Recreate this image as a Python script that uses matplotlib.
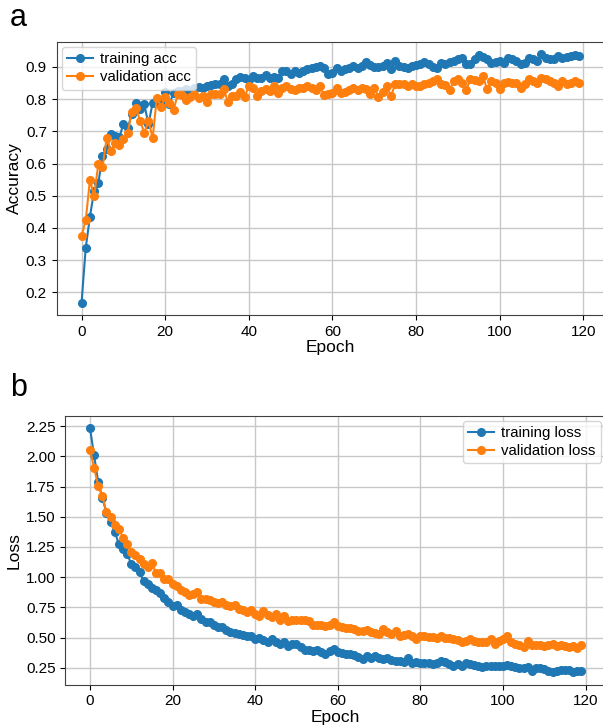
import matplotlib
matplotlib.use("Agg")
import matplotlib.pyplot as plt
import numpy as np

plt.rcParams['font.family'] = ['Liberation Sans', 'DejaVu Sans']

epochs = list(range(120))

train_acc = [
    0.168, 0.339, 0.435, 0.515, 0.538, 0.624, 0.644, 0.691, 0.686, 0.681,
    0.722, 0.709, 0.753, 0.789, 0.769, 0.784, 0.722, 0.789, 0.790, 0.795,
    0.822, 0.784, 0.820, 0.825, 0.825, 0.831, 0.823, 0.836, 0.838, 0.836,
    0.841, 0.844, 0.848, 0.846, 0.862, 0.841, 0.848, 0.862, 0.869, 0.867,
    0.859, 0.872, 0.865, 0.867, 0.875, 0.867, 0.869, 0.865, 0.888, 0.886,
    0.879, 0.888, 0.882, 0.888, 0.893, 0.896, 0.900, 0.903, 0.898, 0.879,
    0.882, 0.898, 0.888, 0.893, 0.896, 0.903, 0.898, 0.903, 0.916, 0.906,
    0.900, 0.900, 0.903, 0.913, 0.893, 0.918, 0.903, 0.900, 0.898, 0.903,
    0.906, 0.910, 0.916, 0.908, 0.900, 0.898, 0.913, 0.908, 0.915, 0.920,
    0.924, 0.928, 0.908, 0.908, 0.924, 0.936, 0.932, 0.924, 0.913, 0.915,
    0.918, 0.913, 0.929, 0.924, 0.918, 0.908, 0.911, 0.929, 0.924, 0.919,
    0.939, 0.929, 0.924, 0.926, 0.934, 0.929, 0.930, 0.934, 0.936, 0.934,
]

val_acc = [
    0.375, 0.425, 0.549, 0.498, 0.598, 0.588, 0.679, 0.639, 0.663, 0.657,
    0.675, 0.694, 0.760, 0.774, 0.732, 0.696, 0.732, 0.679, 0.805, 0.776,
    0.808, 0.789, 0.766, 0.815, 0.813, 0.796, 0.807, 0.815, 0.805, 0.810,
    0.792, 0.815, 0.817, 0.817, 0.831, 0.792, 0.810, 0.810, 0.823, 0.807,
    0.841, 0.834, 0.810, 0.825, 0.831, 0.825, 0.841, 0.820, 0.836, 0.841,
    0.831, 0.828, 0.836, 0.834, 0.841, 0.836, 0.828, 0.841, 0.813, 0.817,
    0.820, 0.836, 0.820, 0.823, 0.828, 0.836, 0.828, 0.836, 0.831, 0.817,
    0.836, 0.807, 0.823, 0.841, 0.810, 0.846, 0.848, 0.848, 0.841, 0.846,
    0.841, 0.841, 0.848, 0.851, 0.856, 0.862, 0.846, 0.844, 0.828, 0.857,
    0.864, 0.851, 0.829, 0.862, 0.860, 0.857, 0.872, 0.830, 0.855, 0.851,
    0.831, 0.851, 0.853, 0.851, 0.851, 0.836, 0.846, 0.862, 0.857, 0.851,
    0.867, 0.862, 0.857, 0.851, 0.841, 0.857, 0.846, 0.851, 0.857, 0.851,
]

train_loss = [
    2.236, 2.008, 1.787, 1.658, 1.530, 1.457, 1.377, 1.272, 1.231, 1.189,
    1.112, 1.080, 1.040, 0.970, 0.940, 0.910, 0.890, 0.870, 0.830, 0.790,
    0.762, 0.768, 0.730, 0.710, 0.694, 0.675, 0.694, 0.652, 0.630, 0.625,
    0.600, 0.583, 0.583, 0.564, 0.548, 0.540, 0.528, 0.520, 0.509, 0.509,
    0.487, 0.500, 0.480, 0.459, 0.487, 0.459, 0.446, 0.459, 0.432, 0.446,
    0.446, 0.418, 0.400, 0.400, 0.390, 0.399, 0.377, 0.364, 0.391, 0.405,
    0.383, 0.370, 0.364, 0.364, 0.355, 0.336, 0.322, 0.350, 0.330, 0.344,
    0.328, 0.322, 0.328, 0.317, 0.308, 0.305, 0.300, 0.328, 0.289, 0.295,
    0.289, 0.289, 0.289, 0.281, 0.289, 0.308, 0.295, 0.281, 0.267, 0.281,
    0.267, 0.289, 0.281, 0.275, 0.267, 0.253, 0.262, 0.267, 0.267, 0.267,
    0.267, 0.273, 0.262, 0.253, 0.245, 0.245, 0.253, 0.226, 0.245, 0.245,
    0.240, 0.226, 0.212, 0.226, 0.234, 0.234, 0.234, 0.218, 0.226, 0.226,
]

val_loss = [
    2.052, 1.906, 1.754, 1.671, 1.539, 1.501, 1.429, 1.402, 1.327, 1.278,
    1.209, 1.181, 1.148, 1.107, 1.087, 1.120, 1.032, 1.038, 0.983, 0.983,
    0.941, 0.928, 0.895, 0.878, 0.850, 0.860, 0.881, 0.823, 0.818, 0.812,
    0.795, 0.784, 0.795, 0.768, 0.757, 0.773, 0.740, 0.729, 0.713, 0.729,
    0.694, 0.680, 0.721, 0.685, 0.666, 0.694, 0.647, 0.675, 0.639, 0.647,
    0.647, 0.647, 0.647, 0.639, 0.603, 0.603, 0.603, 0.597, 0.603, 0.625,
    0.592, 0.584, 0.582, 0.575, 0.570, 0.550, 0.556, 0.560, 0.548, 0.535,
    0.529, 0.570, 0.545, 0.529, 0.556, 0.510, 0.520, 0.529, 0.510, 0.487,
    0.515, 0.510, 0.505, 0.501, 0.493, 0.510, 0.497, 0.493, 0.487, 0.482,
    0.465, 0.474, 0.487, 0.468, 0.465, 0.465, 0.460, 0.487, 0.446, 0.474,
    0.490, 0.510, 0.460, 0.446, 0.438, 0.425, 0.474, 0.438, 0.438, 0.438,
    0.432, 0.438, 0.446, 0.432, 0.438, 0.430, 0.419, 0.427, 0.410, 0.438,
]

acc_ticks = [0.2, 0.3, 0.4, 0.5, 0.6, 0.7, 0.8, 0.9]
loss_ticks = [0.25, 0.5, 0.75, 1.0, 1.25, 1.5, 1.75, 2.0, 2.25]
epoch_ticks = [0, 20, 40, 60, 80, 100, 120]

W, H = 603, 725
fig = plt.figure(figsize=(W / 100, H / 100), dpi=100)

def px_axes(left, top, right, bottom):
    return fig.add_axes([left / W, 1 - bottom / H, (right - left) / W, (bottom - top) / H])

ax1 = px_axes(56.7, 42.0, 604.0, 315.0)
ax2 = px_axes(65.4, 415.7, 606.0, 684.5)

blue = '#1f77b4'
orange = '#ff7f0e'
ms = 5.5
lw = 1.5

leg_kw = dict(fontsize=10.8, handlelength=1.7, handletextpad=0.5,
              labelspacing=0.25, borderpad=0.35, borderaxespad=0.35)

ax1.plot(epochs, train_acc, '-o', color=blue, ms=ms, lw=lw, label='training acc')
ax1.plot(epochs, val_acc, '-o', color=orange, ms=ms, lw=lw, label='validation acc')
ax1.set_ylabel('Accuracy', fontsize=12.5, labelpad=3)
ax1.set_xlabel('Epoch', fontsize=12.5, labelpad=1)
ax1.set_yticks(acc_ticks)
ax1.legend(loc='upper left', **leg_kw)

ax2.plot(epochs, train_loss, '-o', color=blue, ms=ms, lw=lw, label='training loss')
ax2.plot(epochs, val_loss, '-o', color=orange, ms=ms, lw=lw, label='validation loss')
ax2.set_ylabel('Loss', fontsize=12.5, labelpad=3)
ax2.set_xlabel('Epoch', fontsize=12.5, labelpad=1)
ax2.set_yticks(loss_ticks)
ax2.legend(loc='upper right', **leg_kw)

for ax in (ax1, ax2):
    ax.grid(True, color='#c8c8c8', lw=1.0)
    ax.set_axisbelow(True)
    ax.tick_params(labelsize=11)
    ax.set_xticks(epoch_ticks)
    for s in ax.spines.values():
        s.set_color('#404040')

fig.text(10 / W, 1 - 18 / H, 'a', fontsize=22, va='center', ha='left')
fig.text(10 / W, 1 - 388 / H, 'b', fontsize=22, va='center', ha='left')

fig.savefig('out.png', dpi=100)
